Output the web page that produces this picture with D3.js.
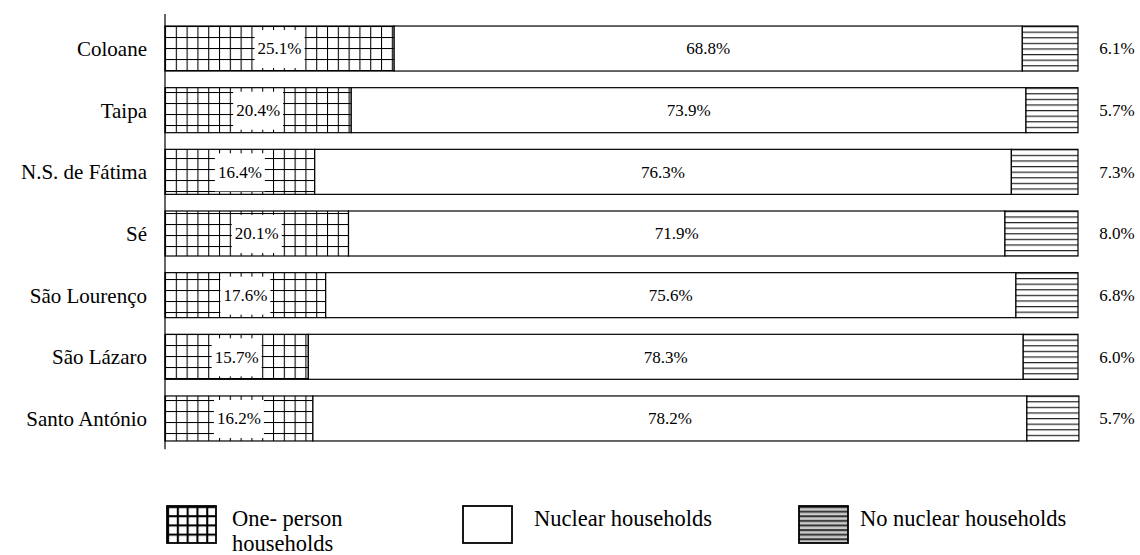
<!DOCTYPE html>
<html><head><meta charset="utf-8">
<script src="https://cdn.jsdelivr.net/npm/d3@7"></script>
<style>html,body{margin:0;padding:0;background:#fff}</style>
</head><body>
<svg id="c" width="1140" height="555"></svg>
<script>
const categories = ["Coloane","Taipa","N.S. de Fátima","Sé","São Lourenço","São Lázaro","Santo António"];
const onePerson = [25.1,20.4,16.4,20.1,17.6,15.7,16.2];
const nuclear   = [68.8,73.9,76.3,71.9,75.6,78.3,78.2];
const noNuclear = [6.1,5.7,7.3,8.0,6.8,6.0,5.7];
const legendLabels = [["One- person","households"],["Nuclear households"],["No nuclear households"]];

const svg = d3.select("#c");
const font = "'Liberation Serif','Times New Roman',serif";
const defs = svg.append("defs");
const pg = defs.append("pattern").attr("id","grid").attr("patternUnits","userSpaceOnUse")
  .attr("width",10.8).attr("height",11).attr("x",165).attr("y",26);
pg.append("rect").attr("width",10.8).attr("height",11).attr("fill","#fff");
pg.append("line").attr("x1",0.5).attr("x2",0.5).attr("y1",0).attr("y2",11).attr("stroke","#000").attr("stroke-width",1.1);
pg.append("line").attr("x1",0).attr("x2",10.8).attr("y1",0.5).attr("y2",0.5).attr("stroke","#000").attr("stroke-width",1.1);
const ph = defs.append("pattern").attr("id","hlines").attr("patternUnits","userSpaceOnUse")
  .attr("width",10).attr("height",5.6).attr("x",0).attr("y",26);
ph.append("rect").attr("width",10).attr("height",5.6).attr("fill","#fff");
ph.append("line").attr("x1",0).attr("x2",10).attr("y1",0.6).attr("y2",0.6).attr("stroke","#222").attr("stroke-width",1.2);
const pgl = defs.append("pattern").attr("id","gridL").attr("patternUnits","userSpaceOnUse")
  .attr("width",9.8).attr("height",9.2).attr("x",167).attr("y",506);
pgl.append("rect").attr("width",9.8).attr("height",9.2).attr("fill","#fff");
pgl.append("line").attr("x1",1).attr("x2",1).attr("y1",0).attr("y2",9.2).attr("stroke","#000").attr("stroke-width",2.2);
pgl.append("line").attr("x1",0).attr("x2",9.8).attr("y1",1).attr("y2",1).attr("stroke","#000").attr("stroke-width",2.2);
const phl = defs.append("pattern").attr("id","hlinesL").attr("patternUnits","userSpaceOnUse")
  .attr("width",10).attr("height",4.6).attr("x",0).attr("y",506);
phl.append("rect").attr("width",10).attr("height",4.6).attr("fill","#ccc");
phl.append("line").attr("x1",0).attr("x2",10).attr("y1",1.1).attr("y2",1.1).attr("stroke","#333").attr("stroke-width",2);

const x = d3.scaleLinear().domain([0,100]).range([165,1078]);
const y = d3.scaleBand().domain(categories).range([17.7,449.3]).paddingInner(0.27).paddingOuter(0.135);

const fills = ["url(#grid)","#fff","url(#hlines)"];
const rows = categories.map((c,i)=>({c, vals:[onePerson[i],nuclear[i],noNuclear[i]]}));

rows.forEach(r=>{
  let acc = 0;
  r.vals.forEach((v,j)=>{
    const x0 = x(acc), x1 = x(acc+v);
    svg.append("rect").attr("x",x0).attr("y",y(r.c)).attr("width",x1-x0).attr("height",y.bandwidth())
      .attr("fill",fills[j]).attr("stroke","#000").attr("stroke-width",1.2);
    acc += v;
  });
});

const pfs = 17;
rows.forEach(r=>{
  const cy = y(r.c)+y.bandwidth()/2;
  const cx0 = x(r.vals[0]/2);
  const t0 = svg.append("text").attr("x",cx0).attr("y",cy).attr("dy","0.35em").attr("text-anchor","middle")
    .attr("font-family",font).attr("font-size",pfs).text(r.vals[0].toFixed(1)+"%");
  const bb = t0.node().getBBox();
  svg.insert("rect", () => t0.node()).attr("x",bb.x-3).attr("y",y(r.c)+4).attr("width",bb.width+6).attr("height",y.bandwidth()-7).attr("fill","#fff");
  const cx1 = x(r.vals[0]+r.vals[1]/2);
  svg.append("text").attr("x",cx1).attr("y",cy).attr("dy","0.35em").attr("text-anchor","middle")
    .attr("font-family",font).attr("font-size",pfs).text(r.vals[1].toFixed(1)+"%");
  svg.append("text").attr("x",1117).attr("y",cy).attr("dy","0.35em").attr("text-anchor","middle")
    .attr("font-family",font).attr("font-size",pfs).text(r.vals[2].toFixed(1)+"%");
  svg.append("text").attr("x",147).attr("y",cy).attr("dy","0.35em").attr("text-anchor","end")
    .attr("font-family",font).attr("font-size",21).text(r.c);
});

const ax = svg.append("g").attr("transform","translate(165,0)")
  .call(d3.axisLeft(y).tickSize(0).tickFormat(""));
ax.select(".domain").attr("stroke","#000").attr("stroke-width",1.2).attr("d","M0,"+14+"V"+449.3);

const legBoxes = [
  {fill:"url(#gridL)", x:167, tx:232},
  {fill:"#fff", x:463, tx:534},
  {fill:"url(#hlinesL)", x:799, tx:860}
];
legBoxes.forEach((l,i)=>{
  svg.append("rect").attr("x",l.x).attr("y",506).attr("width",49).attr("height",37)
    .attr("fill",l.fill).attr("stroke","#000").attr("stroke-width",1.8);
  legendLabels[i].forEach((s,k)=>{
    svg.append("text").attr("x",l.tx).attr("y",526+k*25).attr("font-family",font).attr("font-size",22.5).text(s);
  });
});
</script>
</body></html>
